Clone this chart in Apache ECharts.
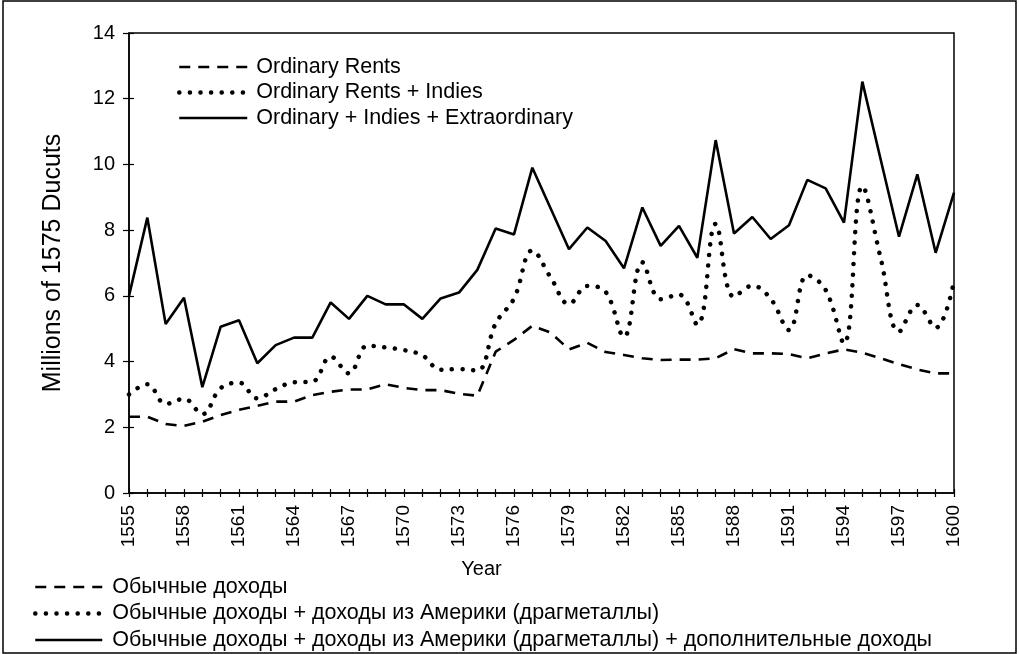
<!DOCTYPE html>
<html>
<head>
<meta charset="utf-8">
<script src="https://cdn.jsdelivr.net/npm/echarts@6/dist/echarts.min.js"></script>
<style>
  html, body { margin: 0; padding: 0; background: #fff; }
  #chart { width: 1019px; height: 654px; }
</style>
</head>
<body>
<div id="chart"></div>
<script>
// years on the x axis
const years = ['1555', '1556', '1557', '1558', '1559', '1560', '1561', '1562', '1563', '1564',
  '1565', '1566', '1567', '1568', '1569', '1570', '1571', '1572', '1573', '1574',
  '1575', '1576', '1577', '1578', '1579', '1580', '1581', '1582', '1583', '1584',
  '1585', '1586', '1587', '1588', '1589', '1590', '1591', '1592', '1593', '1594',
  '1595', '1596', '1597', '1598', '1599', '1600']

// Ordinary Rents
const ordinary = [2.32, 2.32, 2.1, 2.04, 2.17, 2.37, 2.53, 2.65, 2.78, 2.78,
  2.98, 3.08, 3.15, 3.15, 3.31, 3.2, 3.13, 3.13, 3.02, 2.96,
  4.3, 4.66, 5.09, 4.88, 4.37, 4.57, 4.29, 4.2, 4.1, 4.05,
  4.06, 4.06, 4.1, 4.38, 4.25, 4.25, 4.23, 4.1, 4.25, 4.37,
  4.27, 4.1, 3.92, 3.76, 3.64, 3.64]

// Ordinary Rents + Indies
const withIndies = [3.0, 3.31, 2.71, 2.87, 2.4, 3.19, 3.36, 2.88, 3.16, 3.37,
  3.39, 4.15, 3.64, 4.48, 4.43, 4.35, 4.19, 3.75, 3.77, 3.73,
  5.16, 5.92, 7.38, 6.56, 5.75, 6.3, 6.12, 4.75, 7.02, 5.9,
  6.04, 5.12, 8.19, 5.97, 6.31, 5.91, 4.96, 6.63, 6.18, 4.55,
  9.34, 7.15, 4.91, 5.72, 5.03, 6.45]

// Ordinary + Indies + Extraordinary
const total = [6.0, 8.38, 5.14, 5.94, 3.22, 5.06, 5.26, 3.95, 4.5, 4.73,
  4.73, 5.8, 5.3, 6.0, 5.74, 5.74, 5.3, 5.92, 6.1, 6.79,
  8.05, 7.87, 9.9, 8.66, 7.42, 8.08, 7.67, 6.84, 8.69, 7.52,
  8.13, 7.16, 10.74, 7.9, 8.4, 7.73, 8.15, 9.53, 9.27, 8.23,
  12.52, 10.15, 7.8, 9.7, 7.31, 9.14]

const names = ['Ordinary Rents', 'Ordinary Rents + Indies', 'Ordinary + Indies + Extraordinary']
const namesRu = ['Обычные доходы',
  'Обычные доходы + доходы из Америки (драгметаллы)',
  'Обычные доходы + доходы из Америки (драгметаллы) + дополнительные доходы']

const font = 'Liberation Sans, Arial, sans-serif'

const dashed = { color: '#000', width: 2.6, type: [11, 8] }
const dotted = { color: '#000', width: 4.5, type: [0.1, 10.5], cap: 'round' }
const solid = { color: '#000', width: 2.6, type: 'solid' }

const legendItems = [
  { name: names[0], lineStyle: dashed },
  { name: names[1], lineStyle: dotted },
  { name: names[2], lineStyle: solid }
]

const chart = echarts.init(document.getElementById('chart'))
const option = {
  animation: false,
  textStyle: { fontFamily: font, color: '#000' },
  grid: {
    left: 129, right: 65, top: 33, bottom: 161,
    show: true, borderColor: '#000', borderWidth: 1.5
  },
  legend: [
    {
      data: legendItems,
      orient: 'vertical',
      left: 172, top: 51,
      itemWidth: 68, itemHeight: 14, itemGap: 3.5,
      itemStyle: { opacity: 0 },
      textStyle: { fontSize: 21.5, color: '#000', fontFamily: font, padding: [0, 0, 0, 4] }
    },
    {
      data: legendItems,
      orient: 'vertical',
      left: 28, top: 571, height: 83,
      itemWidth: 67, itemHeight: 14, itemGap: 4.5,
      itemStyle: { opacity: 0 },
      formatter: name => namesRu[names.indexOf(name)],
      textStyle: { fontSize: 21.5, color: '#000', fontFamily: font, padding: [0, 0, 0, 5] }
    }
  ],
  xAxis: [
    {
      type: 'category',
      data: years,
      boundaryGap: false,
      name: 'Year',
      nameLocation: 'middle',
      nameGap: 66,
      nameTextStyle: { fontSize: 20, color: '#000', padding: [0, 120, 0, 0] },
      axisLine: { lineStyle: { color: '#000', width: 1.5 } },
      axisTick: { interval: 0, length: 4, lineStyle: { color: '#000', width: 1.2 } },
      axisLabel: { interval: 2, rotate: 90, margin: 12, fontSize: 19, color: '#000' },
      splitLine: { show: false }
    },
    {
      type: 'category',
      data: years,
      boundaryGap: false,
      position: 'bottom',
      axisLine: { show: false },
      axisTick: { inside: true, interval: 0, length: 4, lineStyle: { color: '#000', width: 1.2 } },
      axisLabel: { show: false },
      splitLine: { show: false }
    }
  ],
  yAxis: [
    {
      type: 'value',
      min: 0, max: 14, interval: 2,
      name: 'Millions of 1575 Ducuts',
      nameLocation: 'middle',
      nameGap: 63,
      nameTextStyle: { fontSize: 25, color: '#000' },
      axisLine: { show: true, lineStyle: { color: '#000', width: 1.5 } },
      axisTick: { show: true, length: 6, lineStyle: { color: '#000', width: 1.2 } },
      axisLabel: { margin: 14, fontSize: 20, color: '#000' },
      splitLine: { show: false }
    },
    {
      type: 'value',
      min: 0, max: 14, interval: 2,
      position: 'left',
      axisLine: { show: false },
      axisTick: { show: true, inside: true, length: 5, lineStyle: { color: '#000', width: 1.2 } },
      axisLabel: { show: false },
      splitLine: { show: false }
    }
  ],
  graphic: [
    {
      type: 'rect',
      shape: { x: 3, y: 1, width: 1013, height: 652 },
      style: { fill: 'none', stroke: '#000', lineWidth: 1.5 },
      silent: true
    }
  ],
  series: [
    {
      name: names[0],
      type: 'line',
      data: ordinary,
      symbol: 'none',
      lineStyle: dashed,
      itemStyle: { color: '#000' }
    },
    {
      name: names[1],
      type: 'line',
      data: withIndies,
      symbol: 'none',
      smooth: 0.4,
      lineStyle: dotted,
      itemStyle: { color: '#000' }
    },
    {
      name: names[2],
      type: 'line',
      data: total,
      symbol: 'none',
      lineStyle: solid,
      itemStyle: { color: '#000' }
    }
  ]
}
chart.setOption(option)
</script>
</body>
</html>
